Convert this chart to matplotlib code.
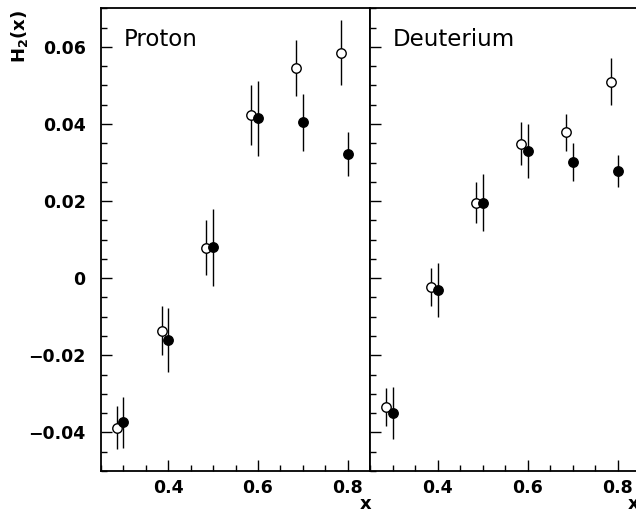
import numpy as np
import matplotlib
matplotlib.use("Agg")
import matplotlib.pyplot as plt
from matplotlib.ticker import MultipleLocator, FixedLocator

# nominal x bins; open points are drawn slightly to the left
x_bins = [0.3, 0.4, 0.5, 0.6, 0.7, 0.8]
x_shift = -0.015

proton_open = [-0.0388, -0.0136, 0.0079, 0.0423, 0.0545, 0.0585]
proton_open_err = [0.0056, 0.0064, 0.0072, 0.0077, 0.0072, 0.0084]
proton_full = [-0.0374, -0.0160, 0.0080, 0.0415, 0.0404, 0.0323]
proton_full_err = [0.0067, 0.0084, 0.0099, 0.0097, 0.0073, 0.0057]

deut_open = [-0.0334, -0.0023, 0.0196, 0.0349, 0.0379, 0.0510]
deut_open_err = [0.0050, 0.0050, 0.0053, 0.0055, 0.0048, 0.0060]
deut_full = [-0.0349, -0.0030, 0.0196, 0.0330, 0.0302, 0.0278]
deut_full_err = [0.0068, 0.0070, 0.0074, 0.0069, 0.0049, 0.0041]

panels = ["Proton", "Deuterium"]
x_ticks = [0.4, 0.6, 0.8]
y_ticks = [-0.04, -0.02, 0, 0.02, 0.04, 0.06]
y_tick_labels = ["\u22120.04", "\u22120.02", "0", "0.02", "0.04", "0.06"]

W, H = 636, 512
fig = plt.figure(figsize=(W / 100, H / 100), dpi=100)
bottom, top = 471, 7.5
ax_l = fig.add_axes([101 / W, (H - bottom) / H, 269 / W, (bottom - top) / H])
ax_r = fig.add_axes([370 / W, (H - bottom) / H, 270 / W, (bottom - top) / H])

data = [
    (proton_open, proton_open_err, proton_full, proton_full_err),
    (deut_open, deut_open_err, deut_full, deut_full_err),
]

xo = np.array(x_bins) + x_shift
for ax, name, (yo, eo, yf, ef) in zip([ax_l, ax_r], panels, data):
    ax.errorbar(xo, yo, yerr=eo, fmt="o", ms=6.8, mfc="white", mec="black",
                mew=1.0, ecolor="black", elinewidth=1.0, capsize=0, zorder=3)
    ax.errorbar(x_bins, yf, yerr=ef, fmt="o", ms=6.8, mfc="black", mec="black",
                ecolor="black", elinewidth=1.0, capsize=0, zorder=3)
    ax.set_xlim(0.25, 0.85)
    ax.set_ylim(-0.05, 0.0702)
    ax.xaxis.set_major_locator(FixedLocator(x_ticks))
    ax.xaxis.set_minor_locator(MultipleLocator(0.05))
    ax.yaxis.set_major_locator(FixedLocator(y_ticks))
    ax.yaxis.set_minor_locator(MultipleLocator(0.005))
    ax.tick_params(which="major", direction="in", length=8, width=1.0,
                   top=False, right=False, labelsize=12.5, pad=6)
    ax.tick_params(which="minor", direction="in", length=4, width=1.0,
                   top=False, right=False)
    ax.tick_params(axis="y", which="major", pad=11)
    for s in ax.spines.values():
        s.set_linewidth(1.3)
    ax.set_xticklabels([f"{t:.1f}" for t in x_ticks], fontweight="bold")
    ax.text(0.085, 0.93, name, transform=ax.transAxes, fontsize=16.5,
            ha="left", va="center")

ax_l.set_yticklabels(y_tick_labels, fontweight="bold")
ax_r.set_yticklabels([])

# axis titles in the corners, as in the original layout
fig.text(20 / W, 1 - 10 / H, "H$_\\mathbf{2}$(x)", rotation=90, ha="center",
         va="top", fontsize=13, fontweight="bold")
fig.text(366 / W, 1 - 504 / H, "x", ha="center", va="center",
         fontsize=13, fontweight="bold")
fig.text(634 / W, 1 - 504 / H, "x", ha="center", va="center",
         fontsize=13, fontweight="bold")

fig.savefig("out.png", dpi=100)
